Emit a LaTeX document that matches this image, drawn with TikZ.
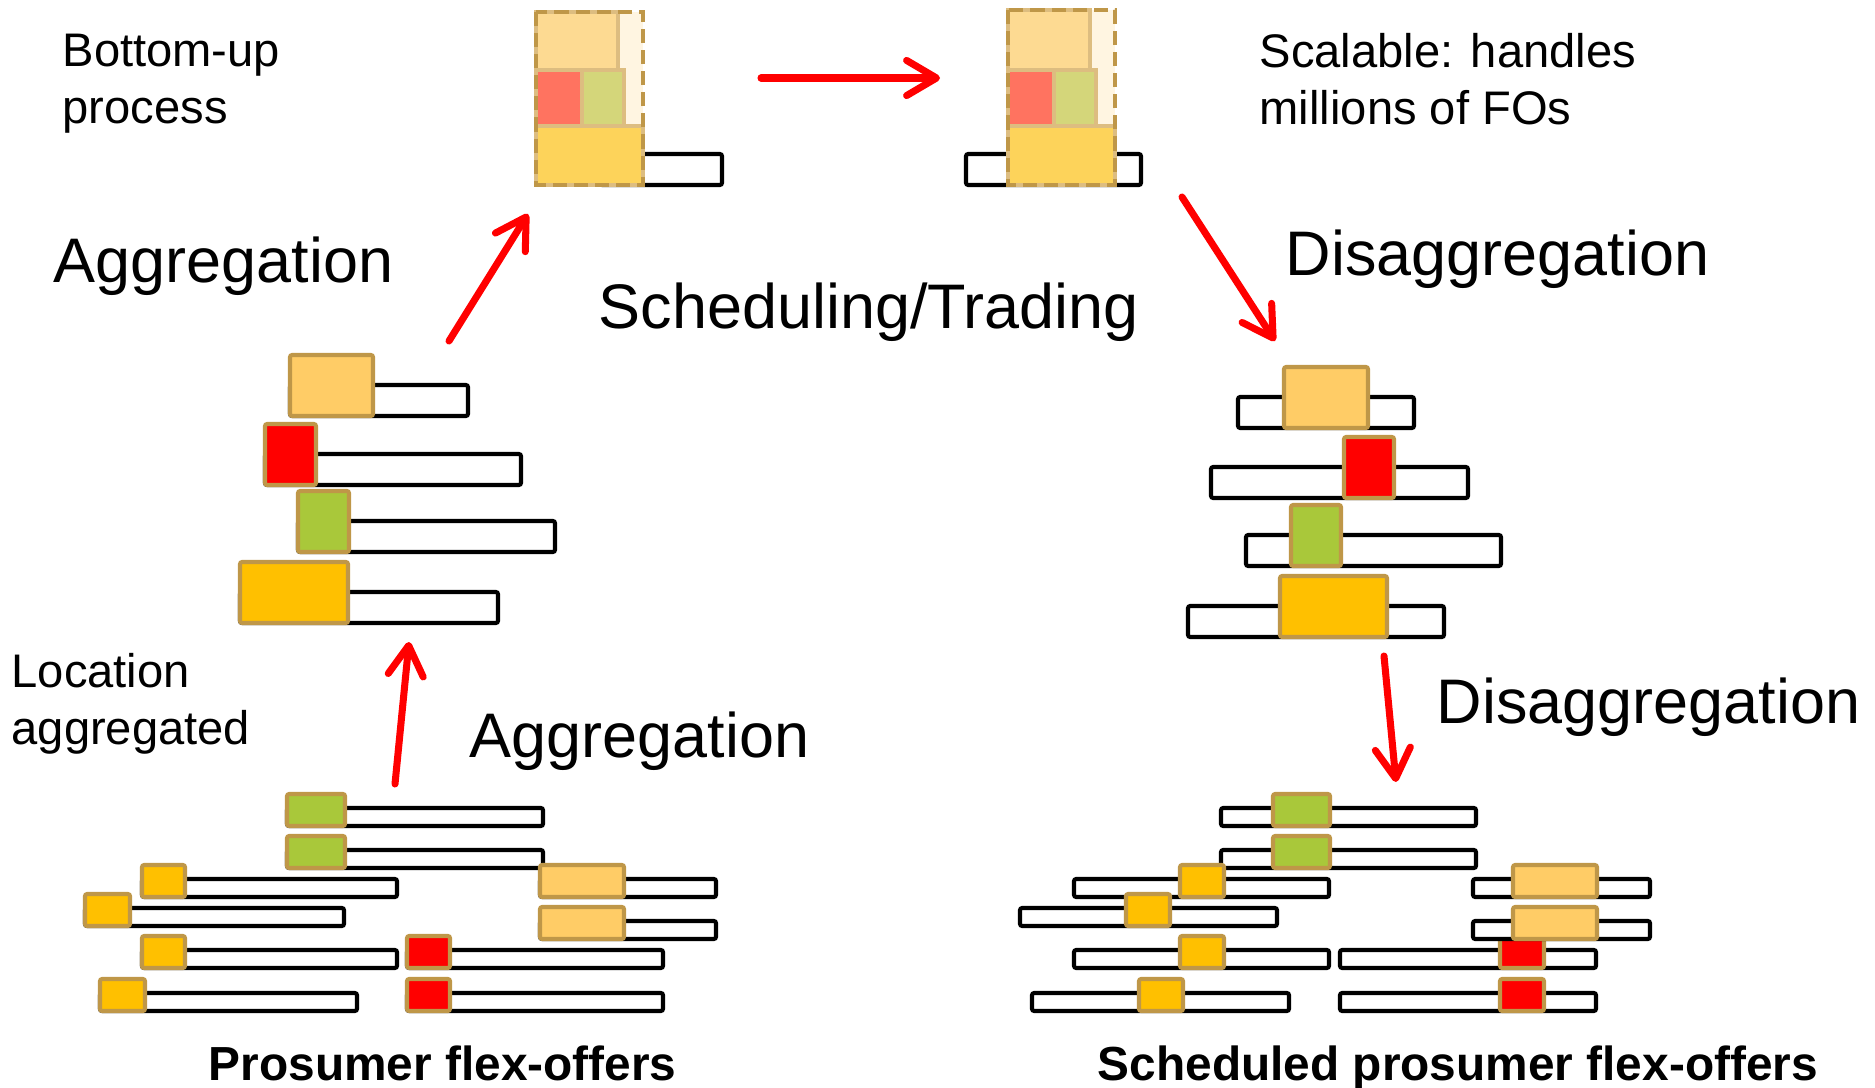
\documentclass[tikz,border=0pt]{standalone}
\usepackage{fontspec}
\setmainfont{Liberation Sans}
\usetikzlibrary{arrows.meta}

\definecolor{foOrange}{HTML}{FFCC66}
\definecolor{foRed}{HTML}{FF0000}
\definecolor{foGreen}{HTML}{A9C83A}
\definecolor{foYellow}{HTML}{FFC000}
\definecolor{foTan}{HTML}{BF9748}
\definecolor{agOrange}{HTML}{FDDA92}
\definecolor{agRed}{HTML}{FF7360}
\definecolor{agGreen}{HTML}{D4D67A}
\definecolor{agYellow}{HTML}{FDD35A}
\definecolor{agCream}{HTML}{FFF5E1}
\definecolor{agEdge}{HTML}{DDBD80}

\begin{document}
\begin{tikzpicture}[x=0.01cm, y=-0.01cm,
					bar/.style={draw=black,fill=white,line width=1.15pt,rounded corners=0.6pt},
					slice/.style={draw=foTan,line width=1.15pt,rounded corners=0.6pt},
					cell/.style={draw=agEdge,line width=1pt},
					hull/.style={draw=foTan,line width=1.2pt,dash pattern=on 4pt off 2pt},
					flow/.style={draw=red,line width=2pt,line cap=round,
					             -{Straight Barb[length=8.5pt,width=10pt,round]}},
					note/.style={font=\fontsize{13.4pt}{16.2pt}\selectfont,inner sep=0pt,align=left},
					phase/.style={font=\fontsize{17.9pt}{21pt}\selectfont,inner sep=0pt},
					caption/.style={font=\bfseries\fontsize{13.6pt}{16pt}\selectfont,inner sep=0pt}]

  \useasboundingbox (0,0) rectangle (1875,1088);

  % prosumer flex-offers
  \foreach \bl/\br/\xl/\xr/\yb/\col in {
      287/543/287/345/826/foGreen, 287/543/287/345/868/foGreen,
      142/397/142/185/897/foYellow, 540/716/540/624/897/foOrange,
      85/344/85/130/926/foYellow, 540/716/540/624/939/foOrange,
      142/397/142/185/968/foYellow, 407/663/407/450/968/foRed,
      100/357/100/145/1011/foYellow, 407/663/407/450/1011/foRed,
      % scheduled ones
      1221/1476/1273/1330/826/foGreen, 1221/1476/1273/1330/868/foGreen,
      1074/1329/1180/1224/897/foYellow, 1473/1650/1513/1597/897/foOrange,
      1020/1277/1126/1170/926/foYellow, 1340/1596/1500/1544/968/foRed,
      1473/1650/1513/1597/939/foOrange, 1074/1329/1180/1224/968/foYellow,
      1032/1289/1139/1183/1011/foYellow, 1340/1596/1500/1544/1011/foRed}
  {
    \draw[bar] (\bl,\yb-18) rectangle (\br,\yb);
    \draw[slice,fill=\col] (\xl,\yb-32) rectangle (\xr,\yb);
  }

  % location aggregated flex-offers
  \foreach \bl/\br/\xl/\xr/\yb/\col in {
      290/468/290/373/416/foOrange, 265/521/265/316/485/foRed,
      298/555/298/349/552/foGreen, 240/498/240/348/623/foYellow,
      1238/1414/1284/1368/428/foOrange, 1211/1468/1344/1394/498/foRed,
      1246/1501/1291/1341/566/foGreen, 1188/1444/1280/1387/637/foYellow}
  {
    \draw[bar] (\bl,\yb-31) rectangle (\br,\yb);
    \draw[slice,fill=\col] (\xl,\yb-61) rectangle (\xr,\yb);
  }

  % aggregated flex-offer, before and after scheduling
  \draw[bar] (600,154) rectangle (722,185);
  \draw[bar] (966,154) rectangle (1141,185);
  \foreach \dx/\yt in {0/12, 472/10}
  {
    \begin{scope}[shift={(\dx,0)}]
      \fill[agCream] (536,\yt) rectangle (643,185);
      \draw[cell,fill=agOrange] (536,\yt) rectangle (618,70);
      \draw[cell,fill=agRed] (536,70) rectangle (582,126);
      \draw[cell,fill=agGreen] (582,70) rectangle (624,126);
      \draw[cell,fill=agYellow] (536,126) rectangle (643,185);
      \draw[hull] (536,\yt) rectangle (643,185);
    \end{scope}
  }

  % labels
  \node[note,anchor=north west] (bottomup) at (62,33) {Bottom-up\\process};
  \node[note,anchor=north west] (scalable) at (1259,33) {Scalable: handles\\millions of FOs};
  \node[note,anchor=north west] (location) at (11,653) {Location\\aggregated};
  \node[phase,anchor=base west] (aggTop) at (53,283) {Aggregation};
  \node[phase,anchor=base west] (trading) at (598,328) {Scheduling/Trading};
  \node[phase,anchor=base west] (disTop) at (1285,275) {Disaggregation};
  \node[phase,anchor=base west] (aggLow) at (469,757) {Aggregation};
  \node[phase,anchor=base west] (disLow) at (1436,723) {Disaggregation};
  \node[caption,anchor=base west] (prosumer) at (208,1080) {Prosumer flex-offers};
  \node[caption,anchor=base west] (scheduled) at (1097,1080) {Scheduled prosumer flex-offers};

  % arrows
  \coordinate (aggLowFrom) at (395,784);
  \coordinate (aggLowTo) at (409,642);
  \coordinate (aggTopFrom) at (449,341);
  \coordinate (aggTopTo) at (528,214);
  \coordinate (tradeFrom) at (761,78);
  \coordinate (tradeTo) at (940,78);
  \coordinate (disTopFrom) at (1182,197);
  \coordinate (disTopTo) at (1275,341);
  \coordinate (disLowFrom) at (1384,656);
  \coordinate (disLowTo) at (1396,782);

  \path[every edge/.style={flow}]
    (aggLowFrom) edge (aggLowTo)
    (aggTopFrom) edge (aggTopTo)
    (tradeFrom) edge (tradeTo)
    (disTopFrom) edge (disTopTo)
    (disLowFrom) edge (disLowTo);
\end{tikzpicture}
\end{document}
